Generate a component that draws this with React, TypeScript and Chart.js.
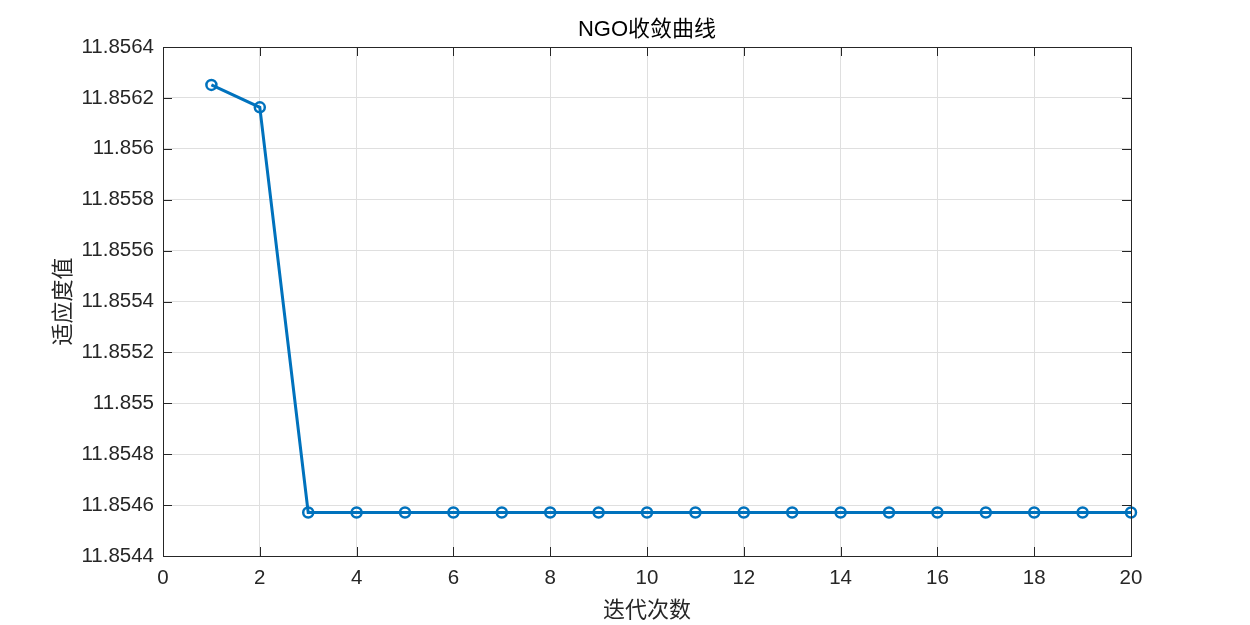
import React, { useEffect, useRef } from "react";
import { Chart, registerables } from "chart.js";

Chart.register(...registerables);

const iterations: number[] = [1, 2, 3, 4, 5, 6, 7, 8, 9, 10, 11, 12, 13, 14, 15, 16, 17, 18, 19, 20];
const fitness: number[] = [
  11.856251, 11.856163, 11.854571, 11.854571, 11.854571, 11.854571, 11.854571,
  11.854571, 11.854571, 11.854571, 11.854571, 11.854571, 11.854571, 11.854571,
  11.854571, 11.854571, 11.854571, 11.854571, 11.854571, 11.854571,
];
const xTicks: number[] = [0, 2, 4, 6, 8, 10, 12, 14, 16, 18, 20];
const yTicks: number[] = [11.8544, 11.8546, 11.8548, 11.855, 11.8552, 11.8554, 11.8556, 11.8558, 11.856, 11.8562, 11.8564];

const titleText = "NGO收敛曲线";
const xTitle = "迭代次数";
const yTitle = "适应度值";

const AXIS = "#262626";
const GRID = "#dfdfdf";
const LINE = "#0072BD";
const TICK_LEN = 9;

const boxPlugin = {
  id: "matlabBox",
  afterDatasetsDraw(chart: any) {
    const { ctx, chartArea } = chart;
    const { left, right, top, bottom } = chartArea;
    const xs = chart.scales.x;
    const ys = chart.scales.y;
    ctx.save();
    ctx.strokeStyle = AXIS;
    ctx.lineWidth = 1;
    ctx.beginPath();
    xTicks.forEach((v) => {
      const px = Math.round(xs.getPixelForValue(v)) + 0.5;
      ctx.moveTo(px, bottom);
      ctx.lineTo(px, bottom - TICK_LEN);
      ctx.moveTo(px, top);
      ctx.lineTo(px, top + TICK_LEN);
    });
    yTicks.forEach((v) => {
      const py = Math.round(ys.getPixelForValue(v)) + 0.5;
      ctx.moveTo(left, py);
      ctx.lineTo(left + TICK_LEN, py);
      ctx.moveTo(right, py);
      ctx.lineTo(right - TICK_LEN, py);
    });
    ctx.stroke();
    ctx.strokeRect(Math.round(left) + 0.5, Math.round(top) + 0.5, Math.round(right - left), Math.round(bottom - top));
    // title centred over the axes box
    ctx.fillStyle = "#000000";
    ctx.font = "22px 'Liberation Sans', 'Noto Sans CJK SC', sans-serif";
    ctx.textAlign = "center";
    ctx.textBaseline = "middle";
    ctx.fillText(titleText, (left + right) / 2, 30);
    ctx.restore();
  },
};

export default function App() {
  const ref = useRef<HTMLCanvasElement | null>(null);
  useEffect(() => {
    if (!ref.current) return;
    const chart = new Chart(ref.current, {
      type: "line",
      data: {
        labels: iterations,
        datasets: [
          {
            data: iterations.map((x, i) => ({ x, y: fitness[i] })),
            borderColor: LINE,
            borderWidth: 3,
            pointRadius: 5,
            pointBorderWidth: 2.5,
            pointBorderColor: LINE,
            pointBackgroundColor: "rgba(0,0,0,0)",
            pointHoverRadius: 5,
            tension: 0,
            clip: false as any,
          },
        ],
      },
      plugins: [boxPlugin],
      options: {
        animation: false,
        responsive: true,
        maintainAspectRatio: false,
        layout: { padding: { left: 0, right: 119, top: 47, bottom: 0 } },
        plugins: {
          legend: { display: false },
          tooltip: { enabled: false },
          title: { display: false },
        },
        scales: {
          x: {
            type: "linear",
            min: 0,
            max: 20,
            afterFit: (s: any) => { s.height = 69; },
            afterBuildTicks: (s: any) => { s.ticks = xTicks.map((v) => ({ value: v })); },
            ticks: {
              color: AXIS,
              font: { family: "'Liberation Sans', Arial, sans-serif", size: 20.5 },
              padding: 10,
              maxRotation: 0,
              autoSkip: false,
            },
            grid: { color: GRID, drawTicks: false, lineWidth: 1 },
            border: { display: false },
            title: {
              display: true,
              text: xTitle,
              color: AXIS,
              font: { family: "'Noto Sans CJK SC', sans-serif", size: 22, weight: "normal" },
              padding: { top: 0, bottom: 3 },
            },
          },
          y: {
            type: "linear",
            min: 11.8544,
            max: 11.8564,
            afterFit: (s: any) => { s.width = 163; },
            afterBuildTicks: (s: any) => { s.ticks = yTicks.map((v) => ({ value: v })); },
            ticks: {
              color: AXIS,
              font: { family: "'Liberation Sans', Arial, sans-serif", size: 20.5 },
              padding: 9,
              autoSkip: false,
              callback: (v: any) => String(parseFloat(Number(v).toFixed(4))),
            },
            grid: { color: GRID, drawTicks: false, lineWidth: 1 },
            border: { display: false },
            title: {
              display: true,
              text: yTitle,
              color: AXIS,
              font: { family: "'Noto Sans CJK SC', sans-serif", size: 22, weight: "normal" },
              padding: { top: 48, bottom: 0 },
            },
          },
        },
      },
    });
    return () => chart.destroy();
  }, []);
  return (
    <div style={{ position: "fixed", left: 0, top: 0, width: 1250, height: 625, background: "#ffffff" }}>
      <canvas ref={ref} />
    </div>
  );
}
